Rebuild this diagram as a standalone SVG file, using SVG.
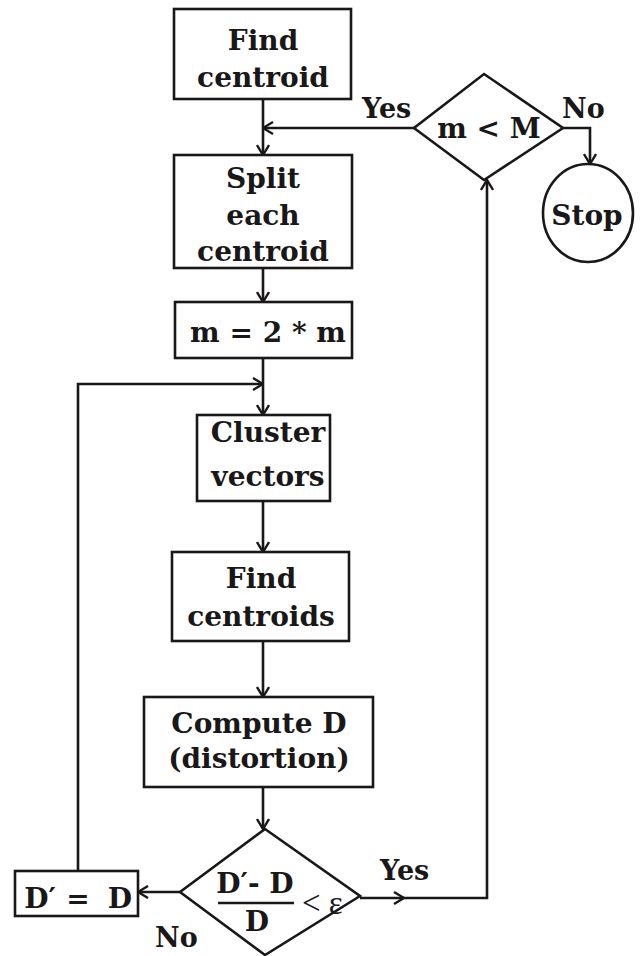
<svg xmlns="http://www.w3.org/2000/svg" width="642" height="956" viewBox="0 0 642 956">
<defs>
<style>
.box{fill:#fff;stroke:#1a1718;stroke-width:2.6}
.ln{fill:none;stroke:#1a1718;stroke-width:2.6}
.t{font-family:"DejaVu Serif","Liberation Serif",serif;font-weight:bold;font-size:28px;fill:#1a1718;text-anchor:middle}
.lab{font-family:"DejaVu Serif","Liberation Serif",serif;font-weight:bold;font-size:27px;fill:#1a1718}
.thin{font-family:"Liberation Serif","DejaVu Serif",serif;font-size:33px;fill:#1a1718}
</style>
<marker id="ah" viewBox="0 0 12 14" refX="11" refY="7" markerWidth="12" markerHeight="14" markerUnits="userSpaceOnUse" orient="auto">
<path d="M1,1 L11,7 L1,13" fill="none" stroke="#1a1718" stroke-width="2.4"/>
</marker>
</defs>
<rect width="642" height="956" fill="#fff"/>
<g id="connectors">
<path class="ln" d="M263,99 V155" marker-end="url(#ah)"/>
<path class="ln" d="M414,128 H263" marker-end="url(#ah)"/>
<path class="ln" d="M563,128 H590 V164" marker-end="url(#ah)"/>
<path class="ln" d="M263,268 V302" marker-end="url(#ah)"/>
<path class="ln" d="M263,358 V415" marker-end="url(#ah)"/>
<path class="ln" d="M78,871 V384 H263" marker-end="url(#ah)"/>
<path class="ln" d="M263,501 V552" marker-end="url(#ah)"/>
<path class="ln" d="M263,641 V697" marker-end="url(#ah)"/>
<path class="ln" d="M263,787 V829" marker-end="url(#ah)"/>
<path class="ln" d="M180,892 H138" marker-end="url(#ah)"/>
<path class="ln" d="M360,898 H404" marker-end="url(#ah)"/>
<path class="ln" d="M403,898 H487 V180" marker-end="url(#ah)"/>
<text class="lab" x="362" y="118">Yes</text>
<text class="lab" x="562" y="118">No</text>
<text class="lab" x="380" y="880">Yes</text>
<text class="lab" x="155" y="947">No</text>
</g>
<g id="find-centroid">
<rect class="box" x="174" y="9" width="177" height="90"/>
<text class="t" x="263" y="50">Find</text>
<text class="t" x="263" y="87">centroid</text>
</g>
<g id="m-less-M">
<polygon class="box" points="484,74 563,128 484,180 414,128"/>
<text class="t" x="489" y="138">m &lt; M</text>
</g>
<g id="stop">
<ellipse class="box" cx="588" cy="213" rx="45" ry="49"/>
<text class="t" x="587" y="225">Stop</text>
</g>
<g id="split">
<rect class="box" x="174" y="155" width="178" height="113"/>
<text class="t" x="263" y="188">Split</text>
<text class="t" x="263" y="225">each</text>
<text class="t" x="263" y="261">centroid</text>
</g>
<g id="double-m">
<rect class="box" x="175" y="302" width="177" height="56"/>
<text class="t" x="268" y="342">m = 2 * m</text>
</g>
<g id="cluster">
<rect class="box" x="197" y="415" width="133" height="86"/>
<text class="t" x="268" y="442">Cluster</text>
<text class="t" x="268" y="486">vectors</text>
</g>
<g id="find-centroids">
<rect class="box" x="172" y="552" width="177" height="89"/>
<text class="t" x="261" y="588">Find</text>
<text class="t" x="261" y="626">centroids</text>
</g>
<g id="compute-d">
<rect class="box" x="144" y="697" width="229" height="90"/>
<text class="t" x="259" y="733">Compute D</text>
<text class="t" x="259" y="768">(distortion)</text>
</g>
<g id="convergence">
<polygon class="box" points="265,829 360,896 265,955 180,892"/>
<text class="t" x="255" y="893">D′- D</text>
<line x1="218" y1="903" x2="294" y2="903" stroke="#1a1718" stroke-width="2.6"/>
<text class="t" x="257" y="931">D</text>
<text class="thin" x="302" y="914">&lt; ε</text>
</g>
<g id="d-update">
<rect class="box" x="15" y="871" width="123" height="45"/>
<text class="t" x="40" y="908">D′</text>
<text class="t" x="78" y="908">=</text>
<text class="t" x="120" y="908">D</text>
</g>
</svg>
